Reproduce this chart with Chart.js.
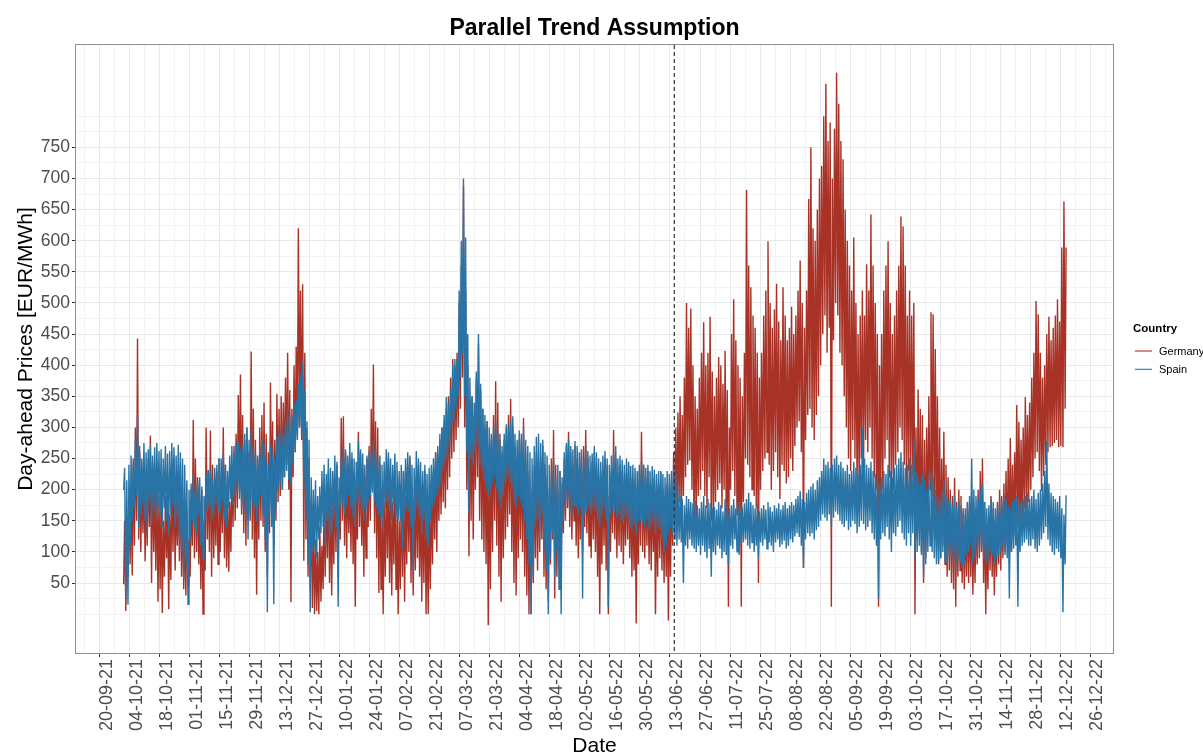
<!DOCTYPE html>
<html>
<head>
<meta charset="utf-8">
<title>Parallel Trend Assumption</title>
<script src="https://cdn.jsdelivr.net/npm/chart.js@4.4.1/dist/chart.umd.min.js"></script>
<style>
  html, body { margin: 0; padding: 0; background: #ffffff; }
  #wrap { position: relative; width: 1203px; height: 754px; }
</style>
</head>
<body>
<div id="wrap"><canvas id="chart"></canvas></div>
<script>
// Fortnightly date ticks (dd-mm-yy)
const tickLabels = ['20-09-21','04-10-21','18-10-21','01-11-21','15-11-21','29-11-21','13-12-21','27-12-21',
  '10-01-22','24-01-22','07-02-22','21-02-22','07-03-22','21-03-22','04-04-22','18-04-22','02-05-22',
  '16-05-22','30-05-22','13-06-22','27-06-22','11-07-22','25-07-22','08-08-22','22-08-22','05-09-22',
  '19-09-22','03-10-22','17-10-22','31-10-22','14-11-22','28-11-22','12-12-22','26-12-22'];
const yTickLabels = [50,100,150,200,250,300,350,400,450,500,550,600,650,700,750];

const seriesNames = ['Germany', 'Spain'];
const seriesStart = '01-10-21';   // first day of the daily series
const policyDate = '15-06-22';    // start of the Iberian price cap

// Daily peak / trough of the day-ahead price, EUR/MWh (01-10-21 .. 14-12-22)
const germanyHigh = [
  150,130,190,
  210,250,300,443,260,220,235,200,250,287,245,210,230,190,
  200,150,190,210,160,230,250,195,215,240,180,150,170,120,
  200,312,250,220,180,200,150,300,230,295,240,210,230,250,
  220,300,240,200,180,230,270,290,352,385,320,280,300,260,
  422,330,280,250,300,320,340,290,260,372,310,280,354,330,
  350,340,380,420,360,330,400,430,620,520,530,420,300,250,
  180,150,120,100,140,110,180,200,230,190,170,220,240,200,
  315,318,260,240,220,250,230,200,293,260,240,220,250,270,
  330,401,310,300,240,200,180,220,250,200,180,230,190,150,
  210,230,190,240,250,200,180,220,240,210,190,230,160,180,
  200,230,260,240,280,300,310,330,350,380,410,400,420,500,
  560,688,520,400,330,350,320,380,435,360,330,300,310,250,
  280,320,374,340,290,260,280,300,320,346,300,270,250,280,
  280,315,260,230,180,200,240,260,230,250,270,240,220,200,
  250,296,240,200,230,210,250,270,293,260,240,270,250,230,
  260,270,296,250,230,245,260,240,220,200,230,250,240,190,
  230,296,250,220,240,230,210,225,240,220,200,210,190,230,
  293,240,220,230,210,200,220,190,210,230,200,190,210,180,
  200,260,300,324,350,320,380,500,460,491,400,350,330,380,
  420,469,400,420,478,390,350,380,413,400,370,423,360,300,
  450,506,440,400,380,350,420,682,560,525,480,460,420,380,
  420,480,520,599,500,460,490,531,470,440,525,480,440,460,
  494,450,480,520,568,500,460,520,667,750,620,600,650,700,
  720,800,852,760,790,700,780,870,820,760,731,650,600,560,
  520,605,500,450,480,520,480,562,520,642,560,500,450,400,
  450,520,560,599,500,450,480,520,560,639,623,560,480,520,
  480,500,300,361,330,320,280,300,350,485,482,426,350,300,
  250,293,240,220,200,190,219,180,200,190,170,160,180,170,
  180,150,170,200,230,250,180,140,160,190,170,150,180,200,
  190,210,230,250,283,240,260,336,309,280,300,349,320,340,
  380,420,503,482,420,380,400,450,478,440,460,480,506,470,
  589,663,589
];
const germanyLow = [
  48,5,60,
  80,62,110,150,120,100,130,85,110,140,50,100,70,20,
  40,2,60,90,8,55,100,70,110,85,60,40,30,45,
  60,110,90,100,80,40,0,70,120,100,60,90,110,80,
  100,130,90,75,68,100,140,150,170,200,160,130,110,150,
  150,120,90,31,120,150,140,100,60,130,170,110,150,180,
  190,200,220,240,200,19,220,260,290,300,280,86,120,60,
  40,10,0,5,0,20,40,60,90,50,30,80,100,60,
  120,150,110,90,130,100,80,12,120,140,110,60,90,140,
  150,200,130,90,34,40,0,60,90,50,30,80,40,0,
  40,60,20,80,100,50,30,70,90,60,20,50,0,0,
  40,80,120,100,150,160,180,170,200,220,250,260,280,300,
  330,380,300,200,93,150,120,200,220,150,120,100,80,-18,
  40,100,150,110,60,20,90,120,140,160,100,50,30,90,
  120,100,60,30,0,0,50,90,70,100,120,60,40,20,
  80,120,25,60,100,70,130,150,170,140,120,150,110,90,
  120,100,140,130,110,90,120,100,60,0,80,110,70,0,
  100,130,120,90,110,100,80,110,120,90,60,70,-15,80,
  110,100,90,110,80,70,100,0,60,90,70,50,60,-10,
  60,110,120,150,180,140,190,220,240,247,200,124,150,190,
  200,230,190,170,220,150,130,180,200,210,170,200,150,12,
  200,230,190,160,150,12,180,250,240,220,200,190,170,50,
  200,230,250,260,240,200,230,260,220,185,240,230,210,220,
  250,230,270,300,310,260,74,280,320,330,300,280,320,350,
  400,450,480,420,460,12,440,500,480,420,400,350,300,250,
  230,280,250,200,185,250,230,280,260,300,250,220,200,12,
  150,200,250,280,220,180,200,240,260,300,280,240,200,230,
  200,220,0,120,130,100,50,90,130,200,190,150,120,80,
  90,110,80,60,70,50,40,12,60,70,50,40,60,50,
  60,31,50,80,90,100,50,0,40,70,60,30,60,80,
  70,90,100,110,120,100,130,150,140,120,150,170,160,180,
  200,220,250,260,230,198,222,240,260,268,270,275,280,268,
  270,268,330
];
const spainHigh = [
  235,215,240,
  255,240,280,318,270,250,275,260,265,270,255,268,275,262,
  265,250,270,258,262,275,268,255,272,260,250,240,215,200,
  210,225,200,215,220,205,190,225,232,230,215,235,240,250,
  250,262,240,230,255,270,260,275,278,265,270,290,300,280,
  296,270,260,255,265,280,275,250,240,270,262,250,285,290,
  300,290,310,330,320,315,340,345,370,385,407,360,310,280,
  220,200,215,190,205,230,240,225,250,235,230,255,245,220,
  250,270,265,255,275,260,250,245,278,265,258,240,255,262,
  260,280,265,250,255,240,245,265,260,250,240,258,245,230,
  240,230,250,260,255,240,235,262,250,245,230,240,225,235,
  240,250,260,270,290,300,320,349,340,360,400,410,410,520,
  600,700,605,450,380,350,340,390,450,370,330,320,310,300,
  290,300,310,295,280,270,290,305,300,310,318,290,280,295,
  290,300,280,270,260,250,270,285,290,275,280,260,255,240,
  230,250,220,240,230,220,260,275,280,270,265,278,270,260,
  265,250,270,262,255,258,270,260,250,245,255,262,250,240,
  255,260,270,250,255,248,240,250,245,238,240,235,230,240,
  245,240,235,240,230,238,232,225,230,228,225,220,230,225,
  230,240,225,200,190,185,175,190,185,180,178,182,175,170,
  180,190,175,185,178,170,172,168,180,175,165,185,178,170,
  175,185,170,180,165,172,178,185,195,180,175,170,178,165,
  170,175,168,180,172,165,175,170,178,168,175,180,170,175,
  180,175,185,190,198,185,180,195,200,205,210,200,215,220,
  230,250,240,245,235,240,250,255,240,245,235,230,240,225,
  230,245,235,225,240,300,250,240,235,245,230,225,220,210,
  220,230,225,240,230,220,235,240,250,260,245,235,240,250,
  240,281,230,220,210,225,215,200,210,230,220,200,190,185,
  200,215,190,180,185,175,190,170,180,175,165,170,180,190,
  250,200,190,185,200,210,180,170,175,185,180,170,175,185,
  180,190,185,175,170,180,185,190,175,180,185,190,195,185,
  190,200,185,195,200,210,230,278,210,195,190,185,180,190,
  170,160,191
];
const spainLow = [
  200,20,15,
  110,150,170,190,140,160,175,150,130,180,145,165,155,170,
  160,140,170,150,130,160,175,140,155,120,100,56,80,16,
  120,150,140,130,160,110,90,150,165,170,150,160,175,170,
  160,180,150,140,170,185,175,190,200,185,170,165,150,120,
  160,180,170,150,175,190,160,120,3,160,140,16,170,200,
  210,200,220,230,215,205,240,260,280,300,290,200,150,80,
  3,100,110,90,120,130,140,110,150,120,130,160,140,12,
  170,180,160,175,190,170,155,140,180,175,165,150,170,180,
  190,195,180,170,160,155,140,170,180,165,150,175,160,150,
  150,105,160,175,165,140,68,150,170,155,130,150,120,110,
  150,170,180,190,200,210,230,240,250,270,300,310,330,350,
  380,420,350,260,161,250,240,260,270,240,230,215,200,190,
  200,210,220,200,185,170,190,210,220,210,200,180,170,190,
  180,170,150,120,80,0,60,140,150,120,160,100,70,0,
  90,130,60,100,40,0,150,170,180,165,160,175,170,160,
  170,25,160,165,175,160,170,165,150,140,160,170,150,12,
  160,170,165,155,160,150,145,155,150,140,135,145,130,150,
  150,145,140,150,135,140,145,130,140,135,120,100,110,130,
  140,130,120,110,120,115,50,110,105,120,110,105,100,110,
  95,110,100,90,105,60,100,95,110,105,90,100,95,80,
  110,105,120,100,95,110,115,120,110,105,115,100,110,90,
  115,110,120,105,115,110,100,115,120,108,112,118,105,110,
  120,115,125,130,124,110,74,120,130,125,130,120,135,140,
  150,160,155,150,160,140,155,165,160,150,145,140,150,135,
  140,150,145,130,140,150,145,135,140,150,130,120,110,25,
  120,130,125,140,120,100,130,125,140,150,130,120,110,130,
  110,130,90,100,110,95,60,80,100,110,100,90,80,85,
  90,100,85,80,95,90,80,70,90,85,75,80,95,100,
  110,80,90,100,110,105,90,80,85,100,95,80,90,95,
  100,110,95,90,25,100,105,110,12,100,110,115,120,110,
  110,120,105,100,110,120,130,140,120,110,100,95,105,100,
  90,3,80
];

const COLORS = { Germany: '#A93226', Spain: '#2874A6' };
const FONT = '"Liberation Sans", Arial, Helvetica, sans-serif';

// ---- date helpers: x positions are days counted from the first tick date ----
function dayNumber(dmy) {
  const [d, m, y] = dmy.split('-').map(Number);
  return Date.UTC(2000 + y, m - 1, d) / 86400000;
}
const origin = dayNumber(tickLabels[0]);
const toDay = dmy => dayNumber(dmy) - origin;
const majorDays = tickLabels.map(toDay);
const step = majorDays[1] - majorDays[0];
const startDay = toDay(seriesStart);
const policyDay = toDay(policyDate);

// Each day contributes its trough and its peak, giving the zig-zag of the price curve
function dailyPoints(low, high) {
  const pts = [];
  for (let i = 0; i < low.length; i++) {
    const d = startDay + i;
    pts.push({ x: d + 0.25, y: low[i] });
    pts.push({ x: d + 0.7, y: high[i] });
  }
  return pts;
}

// Axis limits with a 5% margin around the data
const lastDay = startDay + germanyLow.length - 0.4;
const xSpan = lastDay - startDay;
const xMin = startDay - 0.05 * xSpan;
const xMax = lastDay + 0.05 * xSpan;
const allVals = germanyHigh.concat(germanyLow, spainHigh, spainLow);
const vMin = Math.min(...allVals), vMax = Math.max(...allVals);
const ySpan = vMax - vMin;
const yMin = vMin - 0.05 * ySpan;
const yMax = vMax + 0.05 * ySpan;

// Grid positions: labelled majors plus minor lines halfway between them
const xGrid = [];
for (let v = majorDays[0] - step / 2; v <= xMax; v += step / 2) if (v >= xMin) xGrid.push(v);
const yStep = yTickLabels[1] - yTickLabels[0];
const yGrid = [];
for (let v = yTickLabels[0] - yStep; v <= yTickLabels[yTickLabels.length - 1] + yStep; v += yStep / 2) {
  if (v >= yMin && v <= yMax) yGrid.push(v);
}
const isXMajor = v => majorDays.includes(v);
const isYMajor = v => yTickLabels.includes(v);

const decorations = {
  id: 'decorations',
  afterDatasetsDraw(chart) {
    const { ctx, chartArea: a, scales } = chart;
    // policy start marker
    const px = scales.x.getPixelForValue(policyDay);
    ctx.save();
    ctx.strokeStyle = '#333333';
    ctx.lineWidth = 1.2;
    ctx.setLineDash([4, 3]);
    ctx.beginPath();
    ctx.moveTo(px, a.top);
    ctx.lineTo(px, a.bottom);
    ctx.stroke();
    ctx.restore();
    // panel border
    ctx.save();
    ctx.strokeStyle = '#8f8f8f';
    ctx.lineWidth = 1;
    ctx.strokeRect(Math.round(a.left) - 0.5, Math.round(a.top) - 0.5,
      Math.round(a.right) - Math.round(a.left) + 1, Math.round(a.bottom) - Math.round(a.top) + 1);
    ctx.restore();
  },
  afterDraw(chart) {
    const { ctx, chartArea: a } = chart;
    const cx = (a.left + a.right) / 2;
    const cy = (a.top + a.bottom) / 2;
    ctx.save();
    ctx.fillStyle = '#000000';
    // title
    ctx.font = 'bold 23px ' + FONT;
    ctx.textAlign = 'center';
    ctx.textBaseline = 'alphabetic';
    ctx.fillText('Parallel Trend Assumption', cx, 34.5);
    // x axis title
    ctx.font = '21px ' + FONT;
    ctx.fillText('Date', cx, 752);
    // y axis title
    ctx.save();
    ctx.translate(26, cy);
    ctx.rotate(-Math.PI / 2);
    ctx.textBaseline = 'middle';
    ctx.fillText('Day-ahead Prices [EUR/MWh]', 0, 0);
    ctx.restore();
    // legend
    const lx = a.right + 20;
    ctx.textAlign = 'left';
    ctx.textBaseline = 'alphabetic';
    ctx.font = 'bold 11.5px ' + FONT;
    ctx.fillText('Country', lx, 331.5);
    ctx.font = '11px ' + FONT;
    ctx.textBaseline = 'middle';
    seriesNames.forEach((name, i) => {
      const ly = 351 + i * 18.3;
      ctx.strokeStyle = COLORS[name];
      ctx.lineWidth = 1.1;
      ctx.beginPath();
      ctx.moveTo(lx + 2, ly);
      ctx.lineTo(lx + 19, ly);
      ctx.stroke();
      ctx.fillStyle = '#000000';
      ctx.fillText(name, lx + 26, ly + 0.5);
    });
    ctx.restore();
  }
};

Chart.defaults.font.family = FONT;

new Chart(document.getElementById('chart'), {
  type: 'line',
  data: {
    datasets: [
      {
        label: 'Spain',
        data: dailyPoints(spainLow, spainHigh),
        borderColor: COLORS.Spain,
        borderWidth: 1.4,
        pointRadius: 0,
        tension: 0,
        order: 1
      },
      {
        label: 'Germany',
        data: dailyPoints(germanyLow, germanyHigh),
        borderColor: COLORS.Germany,
        borderWidth: 1.4,
        pointRadius: 0,
        tension: 0,
        order: 2
      }
    ]
  },
  options: {
    responsive: true,
    maintainAspectRatio: false,
    animation: false,
    parsing: false,
    normalized: true,
    events: [],
    layout: { padding: { top: 45, right: 90, left: 0, bottom: 0 } },
    plugins: { legend: { display: false }, title: { display: false }, tooltip: { enabled: false } },
    scales: {
      x: {
        type: 'linear',
        min: xMin,
        max: xMax,
        afterBuildTicks: s => { s.ticks = xGrid.map(v => ({ value: v })); },
        afterFit: s => { s.height = 101; },
        border: { display: false },
        grid: {
          color: c => isXMajor(c.tick.value) ? '#E8E8E8' : '#F2F2F2',
          lineWidth: 1,
          tickLength: 4,
          tickColor: c => isXMajor(c.tick.value) ? '#333333' : 'rgba(0,0,0,0)'
        },
        ticks: {
          autoSkip: false,
          minRotation: 90,
          maxRotation: 90,
          padding: 2,
          labelOffset: 7,
          color: '#4D4D4D',
          font: { size: 18 },
          callback: v => { const i = majorDays.indexOf(v); return i >= 0 ? tickLabels[i] : ''; }
        }
      },
      y: {
        type: 'linear',
        min: yMin,
        max: yMax,
        afterBuildTicks: s => { s.ticks = yGrid.map(v => ({ value: v })); },
        afterFit: s => { s.width = 76; },
        border: { display: false },
        grid: {
          color: c => isYMajor(c.tick.value) ? '#E8E8E8' : '#F2F2F2',
          lineWidth: 1,
          tickLength: 4,
          tickColor: c => isYMajor(c.tick.value) ? '#333333' : 'rgba(0,0,0,0)'
        },
        ticks: {
          autoSkip: false,
          padding: 2,
          color: '#4D4D4D',
          font: { size: 17.5 },
          callback: v => isYMajor(v) ? String(v) : ''
        }
      }
    }
  },
  plugins: [decorations]
});
</script>
</body>
</html>
